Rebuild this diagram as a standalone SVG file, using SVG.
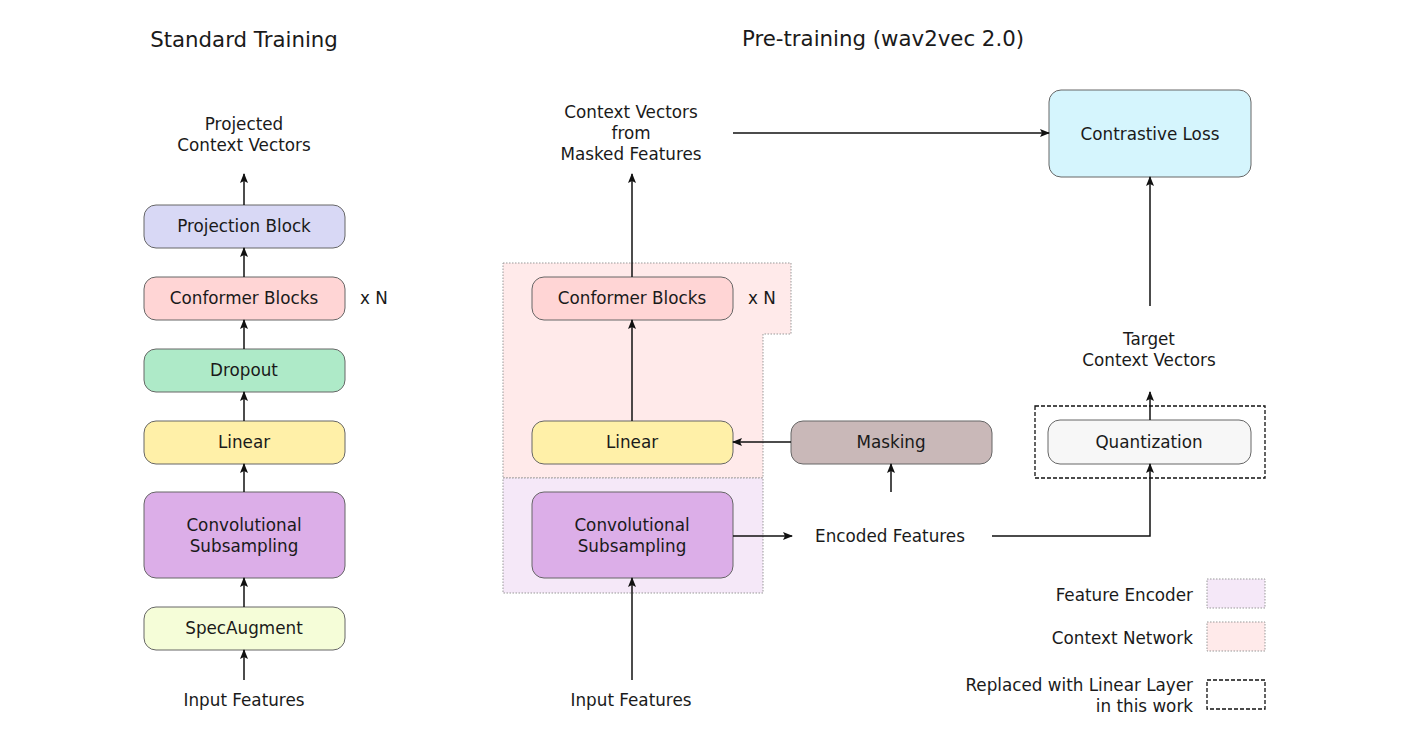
<svg xmlns="http://www.w3.org/2000/svg" width="1406" height="742" viewBox="0 0 1406 742">
<defs>
<marker id="ah" markerWidth="10" markerHeight="8" refX="9" refY="4" orient="auto" markerUnits="userSpaceOnUse">
<path d="M0,0 L10,4 L0,8 L2,4 Z" fill="#111"/>
</marker>
<style>
text{font-family:"DejaVu Sans","Liberation Sans",sans-serif;font-size:16.8px;fill:#1a1a1a;text-anchor:middle;dominant-baseline:central}
.title{font-size:21.3px}
.r{text-anchor:end}
.box{stroke:#666;stroke-width:1}
.edge{stroke:#111;stroke-width:1.5;fill:none;marker-end:url(#ah)}
.line{stroke:#111;stroke-width:1.5;fill:none}
.region{stroke:#999;stroke-width:1;stroke-dasharray:1.5 1.5}
.dash{fill:none;stroke:#111;stroke-width:1.3;stroke-dasharray:4 2}
</style>
</defs>
<rect width="1406" height="742" fill="#fff"/>

<text class="title" x="244" y="39">Standard Training</text>
<text class="title" x="883" y="38">Pre-training (wav2vec 2.0)</text>

<g id="regions">
<path class="region" d="M503,263 H791 V334 H763 V478 H503 Z" fill="#ffeaea"/>
<rect class="region" x="503" y="478" width="260" height="115" fill="#f5e8f8"/>
<rect class="dash" x="1035" y="406" width="230" height="72"/>
</g>

<g id="left-labels">
<text x="244" y="124">Projected</text>
<text x="244" y="145">Context Vectors</text>
<text x="374" y="298">x N</text>
<text x="244" y="700">Input Features</text>
</g>

<g id="l-projection"><rect class="box" x="144" y="205" width="201" height="43" rx="12" fill="#d8d8f5"/><text x="244" y="226">Projection Block</text></g>
<g id="l-conformer"><rect class="box" x="144" y="277" width="201" height="43" rx="12" fill="#ffd5d5"/><text x="244" y="298">Conformer Blocks</text></g>
<g id="l-dropout"><rect class="box" x="144" y="349" width="201" height="43" rx="12" fill="#aeeac8"/><text x="244" y="370">Dropout</text></g>
<g id="l-linear"><rect class="box" x="144" y="421" width="201" height="43" rx="12" fill="#fff0a8"/><text x="244" y="442">Linear</text></g>
<g id="l-conv"><rect class="box" x="144" y="492" width="201" height="86" rx="12" fill="#dcaee8"/><text x="244" y="525">Convolutional</text><text x="244" y="546">Subsampling</text></g>
<g id="l-spec"><rect class="box" x="144" y="607" width="201" height="43" rx="12" fill="#f5fdd8"/><text x="244" y="628">SpecAugment</text></g>

<g id="m-labels">
<text x="631" y="112">Context Vectors</text>
<text x="631" y="133">from</text>
<text x="631" y="154">Masked Features</text>
<text x="762" y="298">x N</text>
<text x="631" y="700">Input Features</text>
<text x="890" y="536">Encoded Features</text>
<text x="1149" y="339">Target</text>
<text x="1149" y="360">Context Vectors</text>
</g>

<g id="m-conformer"><rect class="box" x="532" y="277" width="201" height="43" rx="12" fill="#ffd5d5"/><text x="632" y="298">Conformer Blocks</text></g>
<g id="m-linear"><rect class="box" x="532" y="421" width="201" height="43" rx="12" fill="#fff0a8"/><text x="632" y="442">Linear</text></g>
<g id="m-conv"><rect class="box" x="532" y="492" width="201" height="86" rx="12" fill="#dcaee8"/><text x="632" y="525">Convolutional</text><text x="632" y="546">Subsampling</text></g>
<g id="masking"><rect class="box" x="791" y="421" width="201" height="43" rx="12" fill="#c9b8b8"/><text x="891" y="442">Masking</text></g>
<g id="contrastive"><rect class="box" x="1049" y="90" width="202" height="87" rx="12" fill="#d5f5fd"/><text x="1150" y="134">Contrastive Loss</text></g>
<g id="quantization"><rect class="box" x="1048" y="420" width="203" height="44" rx="12" fill="#f7f7f7"/><text x="1149" y="442">Quantization</text></g>

<g id="legend">
<text class="r" x="1193" y="595">Feature Encoder</text>
<rect class="region" x="1207" y="579" width="58" height="29" fill="#f5e8f8"/>
<text class="r" x="1193" y="638">Context Network</text>
<rect class="region" x="1207" y="622" width="58" height="29" fill="#ffeaea"/>
<text class="r" x="1193" y="685">Replaced with Linear Layer</text>
<text class="r" x="1193" y="706">in this work</text>
<rect class="dash" x="1207" y="680" width="58" height="29"/>
</g>

<g id="connectors">
<line class="edge" x1="244" y1="680" x2="244" y2="650"/>
<line class="edge" x1="244" y1="607" x2="244" y2="578"/>
<line class="edge" x1="244" y1="492" x2="244" y2="464"/>
<line class="edge" x1="244" y1="421" x2="244" y2="392"/>
<line class="edge" x1="244" y1="349" x2="244" y2="320"/>
<line class="edge" x1="244" y1="277" x2="244" y2="248"/>
<line class="edge" x1="244" y1="205" x2="244" y2="174"/>

<line class="edge" x1="632" y1="680" x2="632" y2="578"/>
<line class="edge" x1="632" y1="421" x2="632" y2="320"/>
<line class="edge" x1="632" y1="277" x2="632" y2="174"/>
<line class="edge" x1="733" y1="133" x2="1049" y2="133"/>
<line class="edge" x1="733" y1="536" x2="792" y2="536"/>
<line class="edge" x1="891" y1="492" x2="891" y2="464"/>
<line class="edge" x1="791" y1="442" x2="733" y2="442"/>
<path class="edge" d="M992,536 H1150 V464"/>
<line class="edge" x1="1150" y1="420" x2="1150" y2="392"/>
<line class="edge" x1="1150" y1="306" x2="1150" y2="177"/>
</g>
</svg>
